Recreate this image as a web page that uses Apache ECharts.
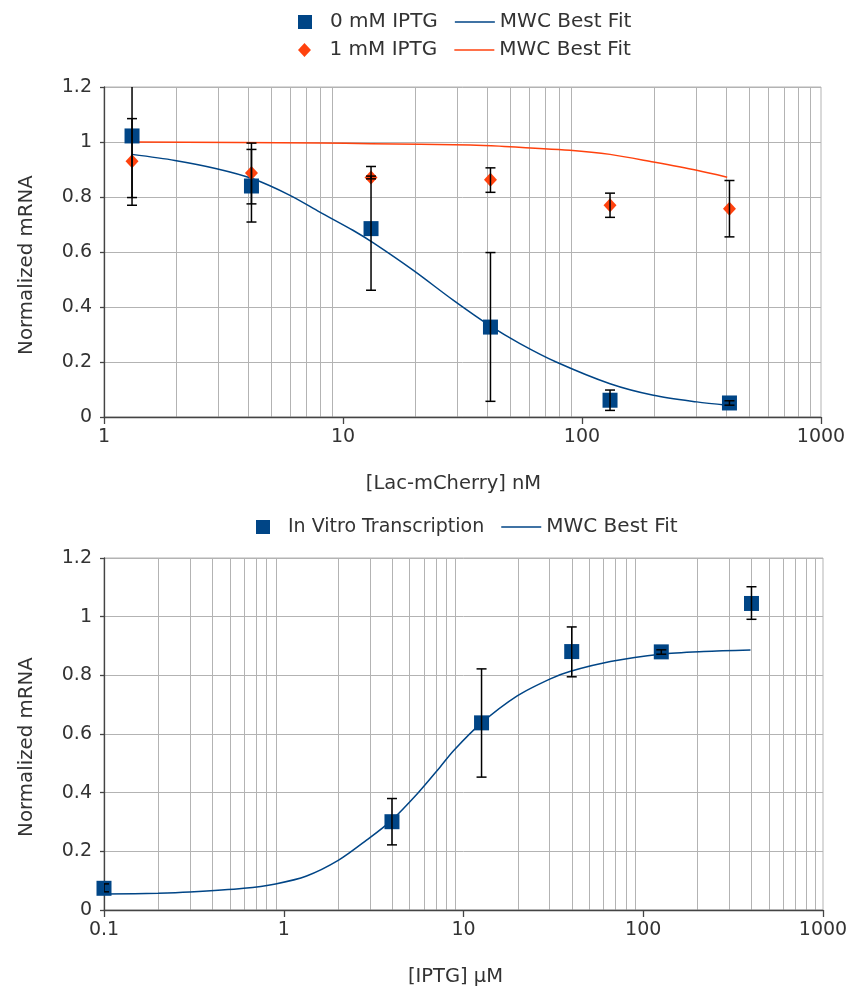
<!DOCTYPE html>
<html><head><meta charset="utf-8">
<script src="https://cdn.jsdelivr.net/npm/echarts@6/dist/echarts.min.js"></script>
<style>html,body{margin:0;padding:0;background:#fff}#c{width:851px;height:989px}</style>
</head><body><div id="c"></div>
<script>
// ---------- Top chart data ----------
const topX = [1.31, 4.14, 13.1, 41.4, 131, 414];
const iptg0Y    = [1.022, 0.84, 0.685, 0.327, 0.061, 0.051];
const iptg0Low  = [0.77, 0.709, 0.461, 0.057, 0.024, 0.043];
const iptg0High = [1.27, 0.973, 0.911, 0.598, 0.098, 0.059];
const iptg1Y    = [0.93, 0.887, 0.871, 0.863, 0.770, 0.757];
const iptg1Low  = [0.798, 0.775, 0.866, 0.817, 0.726, 0.655];
const iptg1High = [1.085, 0.996, 0.876, 0.906, 0.814, 0.86];
const fit0X = [1.31, 1.98, 2.96, 4.17, 6.0, 8.0, 11.0, 13.4, 19.7, 29, 41, 55, 78, 131, 199, 302, 405];
const fit0Y = [0.955, 0.933, 0.903, 0.867, 0.806, 0.745, 0.679, 0.633, 0.533, 0.424, 0.333, 0.267, 0.2, 0.121, 0.079, 0.055, 0.043];
const fit1X = [1.31, 8, 13.1, 34, 45, 89, 131, 199, 302, 405];
const fit1Y = [1.0, 0.996, 0.994, 0.989, 0.985, 0.970, 0.955, 0.927, 0.897, 0.872];

// ---------- Bottom chart data ----------
const ivtX = [0.1, 4, 12.6, 40, 126, 400];
const ivtY    = [0.074, 0.301, 0.638, 0.881, 0.880, 1.045];
const ivtLow  = [0.062, 0.222, 0.453, 0.795, 0.872, 0.991];
const ivtHigh = [0.089, 0.380, 0.822, 0.965, 0.887, 1.102];
const fitIX = [0.1, 0.2, 0.3, 0.6, 0.9, 1.34, 2.02, 2.9, 3.95, 5.6, 7.4, 8.8, 12.5, 19.9, 30.4, 39, 65.6, 125, 217, 395];
const fitIY = [0.0545, 0.057, 0.061, 0.074, 0.089, 0.116, 0.170, 0.239, 0.304, 0.400, 0.487, 0.543, 0.636, 0.73, 0.788, 0.813, 0.847, 0.872, 0.881, 0.886];

// ---------- Ticks ----------
const topXTicks = [1, 10, 100, 1000];
const topXTickLabels = ['1', '10', '100', '1000'];
const botXTicks = [0.1, 1, 10, 100, 1000];
const botXTickLabels = ['0.1', '1', '10', '100', '1000'];
const yTicks = [0, 0.2, 0.4, 0.6, 0.8, 1.0, 1.2];
const yTickLabels = ['0', '0.2', '0.4', '0.6', '0.8', '1', '1.2'];
const topMinorGrid = [];
const botMinorGrid = [];
[1, 10, 100].forEach(d => { for (let k = 2; k <= 9; k++) topMinorGrid.push(d * k); });
[0.1, 1, 10, 100].forEach(d => { for (let k = 2; k <= 9; k++) botMinorGrid.push(+(d * k).toPrecision(3)); });

const FONT = 'DejaVu Sans';
const TXT = '#333333';
const AX = '#444444';
const GRIDC = '#b3b3b3';
const BLUE = '#004586';
const ORANGE = '#ff420e';
const ICON_SQUARE = 'path://M0,0L10,0L10,10L0,10Z';
const ICON_DIAMOND = 'path://M5,0L10,5.4L5,10.8L0,5.4Z';
const ICON_LINE = 'path://M0,0L40,0L40,1.5L0,1.5Z';

function zip3(a, b, c) { return a.map((v, i) => [v, b[i], c[i]]); }
function zip2(a, b) { return a.map((v, i) => [v, b[i]]); }

function logLabel(ticks, labels) {
  return function (v) {
    let best = 0, bd = Infinity;
    ticks.forEach((t, i) => { const d = Math.abs(Math.log10(t) - Math.log10(v)); if (d < bd) { bd = d; best = i; } });
    return bd < 0.01 ? labels[best] : '';
  };
}
function yLabel(v) {
  let best = 0, bd = Infinity;
  yTicks.forEach((t, i) => { const d = Math.abs(t - v); if (d < bd) { bd = d; best = i; } });
  return yTickLabels[best];
}

function errRender(params, api) {
  const x = api.value(0), lo = api.value(1), hi = api.value(2);
  const p1 = api.coord([x, lo]), p2 = api.coord([x, hi]);
  const w = 5;
  const style = { stroke: '#000', lineWidth: 1.5 };
  return { type: 'group', children: [
    { type: 'line', shape: { x1: p1[0], y1: p1[1], x2: p2[0], y2: p2[1] }, style },
    { type: 'line', shape: { x1: p1[0] - w, y1: p1[1], x2: p1[0] + w, y2: p1[1] }, style },
    { type: 'line', shape: { x1: p2[0] - w, y1: p2[1], x2: p2[0] + w, y2: p2[1] }, style }
  ]};
}
function vGridRender(params, api) {
  const x = Math.round(api.coord([api.value(0), api.value(1)])[0]) + 0.5;
  const cs = params.coordSys;
  return { type: 'line', shape: { x1: x, y1: cs.y, x2: x, y2: cs.y + cs.height }, style: { stroke: GRIDC, lineWidth: 1 } };
}

function xAxisCfg(gi, min, max, name, ticks, labels, namePad) {
  return {
    type: 'log', logBase: 10, gridIndex: gi, min, max,
    name, nameLocation: 'middle', nameGap: 57, nameMoveOverlap: false,
    nameTextStyle: { fontFamily: FONT, fontSize: 19.5, color: TXT, padding: namePad },
    axisLine: { show: true, onZero: false, lineStyle: { color: AX, width: 1.3 } },
    axisTick: { show: true, inside: false, length: 7, lineStyle: { color: AX, width: 1.3 } },
    axisLabel: { show: true, margin: 11, fontFamily: FONT, fontSize: 19, color: TXT, formatter: logLabel(ticks, labels) },
    splitLine: { show: false }, minorTick: { show: false }, minorSplitLine: { show: false }
  };
}
function yAxisCfg(gi) {
  return {
    type: 'value', gridIndex: gi, min: 0, max: 1.2, interval: 0.2,
    name: 'Normalized mRNA', nameLocation: 'middle', nameGap: 67, nameRotate: 90, nameMoveOverlap: false,
    nameTextStyle: { fontFamily: FONT, fontSize: 19.8, color: TXT, padding: [0, 26, 0, 0] },
    axisLine: { show: true, lineStyle: { color: AX, width: 1.3 } },
    axisTick: { show: true, inside: false, length: 4, lineStyle: { color: AX, width: 1.3 } },
    axisLabel: { show: true, margin: 12, fontFamily: FONT, fontSize: 19, color: TXT, formatter: yLabel },
    splitLine: { show: true, lineStyle: { color: GRIDC, width: 1 } }
  };
}
const legendCommon = {
  orient: 'horizontal', itemWidth: 40, itemHeight: 14, itemGap: 17, padding: 0, selectedMode: false,
  symbolKeepAspect: true,
  textStyle: { fontFamily: FONT, fontSize: 20, color: TXT },
  formatter: n => n.indexOf('MWC') === 0 ? 'MWC Best Fit' : n
};

const chart = echarts.init(document.getElementById('c'), null, { renderer: 'canvas' });
chart.setOption({
  animation: false,
  backgroundColor: '#ffffff',
  grid: [
    { left: 104, right: 30, top: 87, bottom: 572, show: true, borderColor: GRIDC, borderWidth: 1, backgroundColor: 'transparent', outerBoundsMode: 'none', containLabel: false },
    { left: 104, right: 28, top: 558, bottom: 79, show: true, borderColor: GRIDC, borderWidth: 1, backgroundColor: 'transparent', outerBoundsMode: 'none', containLabel: false }
  ],
  legend: [
    Object.assign({}, legendCommon, { data: [{ name: '0 mM IPTG', icon: ICON_SQUARE }, { name: 'MWC Best Fit (0 mM)', icon: ICON_LINE }], left: 298, top: 12 }),
    Object.assign({}, legendCommon, { data: [{ name: '1 mM IPTG', icon: ICON_DIAMOND }, { name: 'MWC Best Fit (1 mM)', icon: ICON_LINE }], left: 298, top: 40 }),
    Object.assign({}, legendCommon, { data: [{ name: 'In Vitro Transcription', icon: ICON_SQUARE, textStyle: { fontSize: 19 } }, { name: 'MWC Best Fit (IVT)', icon: ICON_LINE }], left: 256, top: 517 })
  ],
  xAxis: [
    xAxisCfg(0, 1, 1000, '[Lac-mCherry] nM', topXTicks, topXTickLabels, [0, 18, 0, 0]),
    xAxisCfg(1, 0.1, 1000, '[IPTG] µM', botXTicks, botXTickLabels, [0, 16, 0, 0])
  ],
  yAxis: [yAxisCfg(0), yAxisCfg(1)],
  series: [
    { type: 'custom', name: 'gridTop', xAxisIndex: 0, yAxisIndex: 0, silent: true, z: 0, renderItem: vGridRender, data: topMinorGrid.map(v => [v, 0.6]) },
    { type: 'custom', name: 'gridBot', xAxisIndex: 1, yAxisIndex: 1, silent: true, z: 0, renderItem: vGridRender, data: botMinorGrid.map(v => [v, 0.6]) },
    { type: 'line', name: 'MWC Best Fit (0 mM)', xAxisIndex: 0, yAxisIndex: 0, z: 2, data: zip2(fit0X, fit0Y), symbol: 'none', showSymbol: false, smooth: 0.3, color: BLUE, itemStyle: { color: BLUE }, lineStyle: { color: BLUE, width: 1.5 } },
    { type: 'line', name: 'MWC Best Fit (1 mM)', xAxisIndex: 0, yAxisIndex: 0, z: 2, data: zip2(fit1X, fit1Y), symbol: 'none', showSymbol: false, smooth: 0.3, color: ORANGE, itemStyle: { color: ORANGE }, lineStyle: { color: ORANGE, width: 1.5 } },
    { type: 'scatter', name: '0 mM IPTG', xAxisIndex: 0, yAxisIndex: 0, z: 3, data: zip2(topX, iptg0Y), symbol: 'rect', symbolSize: 15, itemStyle: { color: BLUE, opacity: 1 } },
    { type: 'scatter', name: '1 mM IPTG', xAxisIndex: 0, yAxisIndex: 0, z: 3, data: zip2(topX, iptg1Y), symbol: 'diamond', symbolSize: [13, 14], itemStyle: { color: ORANGE, opacity: 1 } },
    { type: 'custom', name: 'err0', xAxisIndex: 0, yAxisIndex: 0, z: 4, clip: true, silent: true, renderItem: errRender, encode: { x: 0, y: [1, 2] }, data: zip3(topX, iptg0Low, iptg0High) },
    { type: 'custom', name: 'err1', xAxisIndex: 0, yAxisIndex: 0, z: 4, clip: true, silent: true, renderItem: errRender, encode: { x: 0, y: [1, 2] }, data: zip3(topX, iptg1Low, iptg1High) },
    { type: 'line', name: 'MWC Best Fit (IVT)', xAxisIndex: 1, yAxisIndex: 1, z: 2, data: zip2(fitIX, fitIY), symbol: 'none', showSymbol: false, smooth: 0.3, color: BLUE, itemStyle: { color: BLUE }, lineStyle: { color: BLUE, width: 1.5 } },
    { type: 'scatter', name: 'In Vitro Transcription', xAxisIndex: 1, yAxisIndex: 1, z: 3, data: zip2(ivtX, ivtY), symbol: 'rect', symbolSize: 15, itemStyle: { color: BLUE, opacity: 1 } },
    { type: 'custom', name: 'errI', xAxisIndex: 1, yAxisIndex: 1, z: 4, clip: true, silent: true, renderItem: errRender, encode: { x: 0, y: [1, 2] }, data: zip3(ivtX, ivtLow, ivtHigh) }
  ]
});
</script>
</body></html>
